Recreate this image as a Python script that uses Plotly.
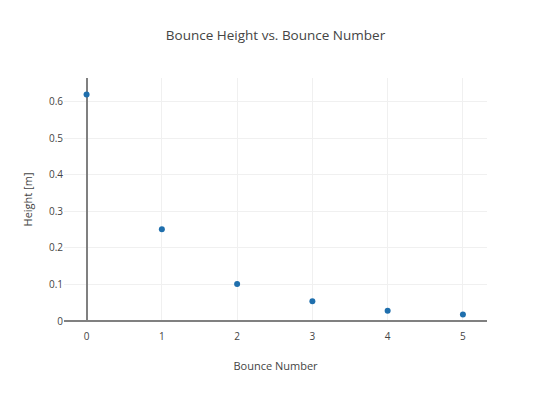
import plotly.graph_objects as go

bounce_number = [0, 1, 2, 3, 4, 5]
height_m = [0.62, 0.251, 0.101, 0.054, 0.028, 0.0177]

# page body has an 8px default margin; figure sized to fit the window
W, H = 534, 377

fig = go.Figure()
fig.add_trace(go.Scatter(
    x=bounce_number, y=height_m, mode="markers",
    marker=dict(color="#1f6fad", size=6),
))
fig.update_layout(
    width=W, height=H,
    title=dict(text="Bounce Height vs. Bounce Number", x=0.5, xanchor="center",
               xref="paper", y=1 - 27 / H, yref="container", yanchor="middle",
               font=dict(size=13.5, color="#444")),
    font=dict(family="Open Sans", color="#444", size=11),
    margin=dict(l=56, r=55, t=70, b=64, autoexpand=False),
    paper_bgcolor="white", plot_bgcolor="white",
    showlegend=False,
    xaxis=dict(title=dict(text="Bounce Number", font=dict(size=11), standoff=20),
               tickfont=dict(size=10), showgrid=True, gridcolor="#f0f0f0",
               zeroline=True, zerolinecolor="#808080", zerolinewidth=2,
               ticks="outside", ticklen=6, tickcolor="rgba(0,0,0,0)",
               dtick=1, range=[-0.3, 5.32], automargin=False),
    yaxis=dict(title=dict(text="Height [m]", font=dict(size=11), standoff=14),
               tickfont=dict(size=10), showgrid=True, gridcolor="#f0f0f0",
               zeroline=True, zerolinecolor="#808080", zerolinewidth=2,
               range=[0, 0.665], dtick=0.1, ticks="", automargin=False),
)
fig.write_html("out.html")
